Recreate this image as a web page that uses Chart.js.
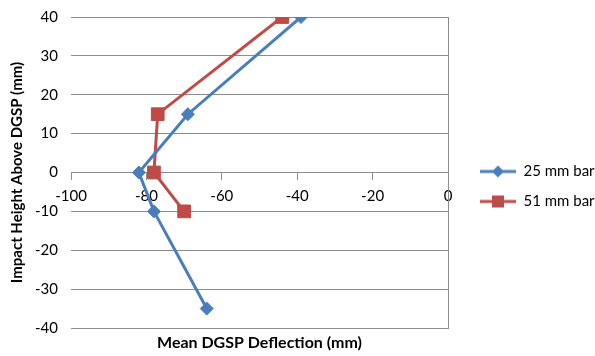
<!DOCTYPE html>
<html>
<head>
<meta charset="utf-8">
<script src="https://cdn.jsdelivr.net/npm/chart.js@4"></script>
<style>
  html, body { margin: 0; padding: 0; background: #fff; }
  #wrap { width: 595px; height: 356px; }
</style>
</head>
<body>
<div id="wrap"><canvas id="myChart" width="595" height="356"></canvas></div>
<script>
// values
const seriesNames = ['25 mm bar', '51 mm bar'];
const defl25 = [-39, -69, -82, -78, -64];
const height25 = [40, 15, 0, -10, -35];
const defl51 = [-44, -77, -78, -70];
const height51 = [40, 15, 0, -10];
const xTicks = [-100, -80, -60, -40, -20, 0];
const yTicks = [-40, -30, -20, -10, 0, 10, 20, 30, 40];

const blue = '#4a7ebb';
const red = '#be4b48';
const gridGray = '#8c8c8c';
const fontFam = 'Lato, "Liberation Sans", sans-serif';

Chart.defaults.font.family = fontFam;
Chart.defaults.color = '#000';

const toPoints = (xs, ys) => xs.map((x, i) => ({ x: x, y: ys[i] }));

// legend icon: line with marker through it, like the spreadsheet legend
function legendIcon(color, shape) {
    const c = document.createElement('canvas');
    c.width = 36; c.height = 14;
    const g = c.getContext('2d');
    g.strokeStyle = color;
    g.lineWidth = 3;
    g.beginPath(); g.moveTo(0, 7); g.lineTo(36, 7); g.stroke();
    g.fillStyle = color;
    g.beginPath();
    if (shape === 'diamond') {
        g.moveTo(18, 1); g.lineTo(24, 7); g.lineTo(18, 13); g.lineTo(12, 7);
    } else {
        g.rect(12, 1, 12, 12);
    }
    g.closePath(); g.fill();
    return c;
}
const icons = [legendIcon(blue, 'diamond'), legendIcon(red, 'square')];

const ctx = document.getElementById('myChart').getContext('2d');
const myChart = new Chart(ctx, {
    type: 'line',
    data: {
        datasets: [{
            label: seriesNames[0],
            data: toPoints(defl25, height25),
            borderColor: blue,
            backgroundColor: blue,
            borderWidth: 3,
            pointStyle: 'rectRot',
            pointRadius: 6.5,
            pointHoverRadius: 6.5,
            pointBorderWidth: 1,
            tension: 0
        }, {
            label: seriesNames[1],
            data: toPoints(defl51, height51),
            borderColor: red,
            backgroundColor: red,
            borderWidth: 3,
            pointStyle: 'rect',
            pointRadius: 9,
            pointHoverRadius: 9,
            pointBorderWidth: 1,
            tension: 0
        }]
    },
    options: {
        responsive: false,
        animation: false,
        layout: { padding: { top: 17, left: 0, right: 0, bottom: 0 } },
        plugins: {
            tooltip: { enabled: false },
            legend: {
                position: 'right',
                maxWidth: 130,
                labels: {
                    usePointStyle: true,
                    pointStyleWidth: 36,
                    padding: 15,
                    font: { size: 15 },
                    generateLabels: chart => chart.data.datasets.map((ds, i) => ({
                        text: ds.label,
                        pointStyle: icons[i],
                        fillStyle: ds.borderColor,
                        strokeStyle: ds.borderColor,
                        lineWidth: 0,
                        hidden: false,
                        datasetIndex: i
                    }))
                }
            }
        },
        scales: {
            x: {
                type: 'linear',
                position: { y: 0 },
                min: -100,
                max: 0,
                afterBuildTicks: s => { s.ticks = xTicks.map(v => ({ value: v })); },
                ticks: { font: { size: 15 }, padding: 8 },
                grid: { drawOnChartArea: false, drawTicks: true, tickLength: 7, color: gridGray },
                border: { display: true, color: gridGray, width: 1 }
            },
            x2: {
                type: 'linear',
                position: 'bottom',
                min: -100,
                max: 0,
                ticks: { display: false },
                grid: { display: false },
                border: { display: false },
                title: {
                    display: true,
                    text: 'Mean DGSP Deflection (mm)',
                    font: { size: 16, weight: 'bold' },
                    padding: { top: 4, bottom: 4 }
                },
                afterFit: s => { s.height = 28; }
            },
            y: {
                type: 'linear',
                position: 'left',
                min: -40,
                max: 40,
                afterBuildTicks: s => { s.ticks = yTicks.map(v => ({ value: v })); },
                ticks: { font: { size: 15 }, padding: 13 },
                grid: { color: gridGray, drawTicks: false },
                border: { display: false },
                title: {
                    display: true,
                    text: 'Impact Height Above DGSP (mm)',
                    font: { size: 15, weight: 'bold' },
                    padding: { top: 8, bottom: 4 }
                },
                afterFit: s => { s.width = 71; s.paddingTop = 0; s.paddingBottom = 0; }
            },
            y2: {
                type: 'linear',
                position: 'right',
                min: -40,
                max: 40,
                ticks: { display: false },
                grid: { display: false },
                border: { display: true, color: gridGray, width: 1 },
                afterFit: s => { s.width = 17; }
            }
        }
    }
});
</script>
</body>
</html>
